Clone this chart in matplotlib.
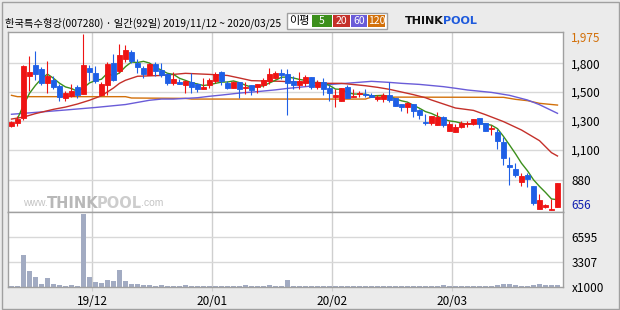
import matplotlib
matplotlib.use("Agg")
import matplotlib.pyplot as plt
from matplotlib.patches import Rectangle

# 한국특수형강(007280) daily candles, 2019/11/12 ~ 2020/03/25 (92 trading days)
opens = [1285, 1305, 1345, 1662, 1745, 1712, 1610, 1632, 1587, 1497,
         1512, 1577, 1527, 1720, 1682, 1520, 1595, 1755, 1700, 1787,
         1842, 1760, 1718, 1665, 1750, 1705, 1675, 1605, 1615, 1595,
         1615, 1600, 1565, 1590, 1620, 1690, 1610, 1572, 1615, 1572,
         1590, 1580, 1595, 1625, 1645, 1682, 1675, 1620, 1595, 1610,
         1650, 1580, 1615, 1570, 1500, 1475, 1575, 1505, 1525, 1525,
         1520, 1490, 1490, 1520, 1495, 1450, 1430, 1450, 1405, 1317,
         1310, 1295, 1350, 1245, 1240, 1280, 1300, 1300, 1345, 1310,
         1262, 1240, 1165, 992, 960, 865, 920, 835, 660, 675,
         656, 675]
highs = [1325, 1360, 1740, 1810, 1850, 1725, 1775, 1660, 1600, 1545,
         1600, 1590, 1975, 1745, 1735, 1615, 1762, 1825, 1900, 1892,
         1855, 1785, 1737, 1755, 1762, 1760, 1685, 1690, 1637, 1630,
         1680, 1610, 1645, 1645, 1690, 1697, 1625, 1622, 1615, 1615,
         1595, 1600, 1645, 1717, 1697, 1710, 1710, 1660, 1690, 1665,
         1650, 1630, 1645, 1590, 1565, 1570, 1590, 1560, 1550, 1560,
         1535, 1515, 1535, 1615, 1495, 1450, 1465, 1450, 1415, 1375,
         1360, 1390, 1360, 1320, 1300, 1320, 1325, 1340, 1345, 1310,
         1290, 1265, 1205, 1050, 1005, 935, 930, 835, 775, 700,
         735, 860]
lows = [1275, 1285, 1330, 1550, 1630, 1590, 1535, 1560, 1475, 1475,
        1505, 1497, 1525, 1625, 1610, 1520, 1520, 1620, 1680, 1762,
        1755, 1680, 1647, 1665, 1662, 1650, 1590, 1590, 1597, 1530,
        1535, 1542, 1565, 1570, 1610, 1595, 1560, 1572, 1497, 1525,
        1520, 1535, 1575, 1600, 1637, 1640, 1370, 1560, 1560, 1585,
        1560, 1565, 1520, 1475, 1430, 1475, 1495, 1505, 1505, 1505,
        1500, 1470, 1465, 1465, 1435, 1395, 1385, 1355, 1340, 1295,
        1295, 1295, 1280, 1245, 1240, 1270, 1280, 1295, 1270, 1250,
        1220, 1115, 990, 845, 900, 835, 830, 690, 660, 670,
        656, 675]
closes = [1315, 1340, 1735, 1690, 1673, 1610, 1662, 1580, 1505, 1535,
          1550, 1520, 1745, 1690, 1625, 1600, 1750, 1630, 1817, 1855,
          1775, 1730, 1675, 1750, 1700, 1665, 1610, 1637, 1603, 1620,
          1580, 1562, 1580, 1630, 1672, 1625, 1570, 1617, 1565, 1580,
          1555, 1600, 1630, 1675, 1682, 1667, 1605, 1595, 1620, 1650,
          1580, 1615, 1565, 1535, 1515, 1570, 1495, 1512, 1530, 1515,
          1505, 1505, 1520, 1480, 1435, 1430, 1455, 1400, 1370, 1310,
          1360, 1350, 1295, 1300, 1280, 1305, 1305, 1335, 1300, 1250,
          1267, 1175, 1045, 980, 920, 910, 890, 710, 730, 695,
          665, 860]
# volume in thousands of shares
volumes = [150, 150, 4210, 2100, 1300, 400, 1200, 400, 270, 150,
           270, 150, 9600, 1300, 650, 530, 900, 800, 2240, 800,
           400, 400, 270, 270, 150, 270, 150, 150, 130, 270,
           130, 130, 130, 130, 130, 130, 130, 130, 130, 270,
           130, 130, 130, 270, 130, 130, 900, 130, 130, 130,
           130, 130, 130, 130, 130, 130, 130, 130, 130, 130,
           130, 130, 130, 130, 130, 130, 130, 130, 130, 130,
           130, 130, 270, 130, 130, 130, 130, 130, 130, 130,
           130, 300, 400, 400, 270, 130, 130, 300, 400, 250,
           250, 250]

# moving averages
ma5 = [1340, 1440, 1530, 1590, 1640, 1674, 1643, 1606, 1578, 1566,
       1545, 1571, 1608, 1626, 1636, 1682, 1659, 1684, 1730, 1765,
       1761, 1770, 1757, 1726, 1704, 1680, 1672, 1643, 1627, 1610,
       1600, 1589, 1594, 1605, 1614, 1615, 1623, 1610, 1591, 1577,
       1583, 1586, 1608, 1628, 1651, 1652, 1645, 1634, 1627, 1610,
       1612, 1606, 1589, 1562, 1560, 1536, 1525, 1524, 1524, 1511,
       1513, 1515, 1505, 1489, 1474, 1464, 1440, 1418, 1393, 1379,
       1358, 1337, 1323, 1317, 1306, 1297, 1305, 1306, 1299, 1291,
       1265, 1207, 1143, 1077, 1006, 949, 882, 832, 787, 738,
       732]  # starts at day 1
ma20_day = [0, 2, 4, 7, 9, 11, 13, 15, 17, 18, 19, 21, 25, 29, 33, 36, 38,
            40, 45, 48, 53, 55, 59, 61, 63, 65, 67, 69, 70, 72, 74, 77, 79,
            82, 85, 88, 90, 91]
ma20 = [1337, 1352, 1378, 1410, 1427, 1450, 1478, 1512, 1570, 1605, 1628,
        1658, 1664, 1680, 1672, 1664, 1645, 1625, 1620, 1612, 1605, 1605,
        1587, 1575, 1560, 1540, 1520, 1497, 1480, 1450, 1420, 1402, 1370,
        1318, 1255, 1175, 1085, 1060]
ma60_day = [0, 4, 9, 14, 19, 23, 25, 27, 31, 33, 35, 38, 41, 44, 46, 49, 51,
            56, 58, 60, 63, 65, 68, 72, 74, 76, 80, 83, 86, 88, 91]
ma60 = [1373, 1387, 1405, 1424, 1446, 1478, 1487, 1487, 1497, 1508, 1517,
        1532, 1543, 1556, 1567, 1580, 1590, 1606, 1613, 1620, 1612, 1605,
        1597, 1580, 1568, 1555, 1537, 1515, 1480, 1445, 1380]
ma120_day = [0, 1, 19, 20, 29, 30, 59, 60, 82, 84, 86, 88, 91]
ma120 = [1515, 1505, 1505, 1495, 1492, 1487, 1487, 1502, 1500, 1485, 1475,
         1455, 1442]

month_labels = ["19/12", "20/01", "20/02", "20/03"]
month_start = [14, 34, 54, 74]  # first trading day of each month
price_ticks = [1755, 1540, 1324, 1105, 880]
price_labels = ["1,800", "1,500", "1,300", "1,100", "880"]
vol_ticks = [0, 3307, 6595]
vol_labels = ["x1000", "3307", "6595"]

UP = "#ee1414"
DOWN = "#1e5fe6"
C5, C20, C60, C120 = "#3c8f1c", "#c4302a", "#6a5cd8", "#d2700a"
GRID = "#d8d8d8"
W, H = 620, 310


def fig_rect(x0, y0, x1, y1):
    # pixel box (top-left origin) -> figure fraction
    return [x0 / W, 1 - y1 / H, (x1 - x0) / W, (y1 - y0) / H]


def style_axes(ax):
    for s in ax.spines.values():
        s.set_color("#a0a0a0")
        s.set_linewidth(1)
    ax.set_facecolor("white")
    ax.set_xlim(-0.58, 91.92)
    for m in month_start:
        ax.axvline(m - 0.5, color="#cfcfcf", lw=1, zorder=0)


def chart():
    plt.rcParams['font.family'] = ['Noto Sans CJK KR', 'DejaVu Sans']
    fig = plt.figure(figsize=(6.2, 3.1), dpi=100, facecolor="#ebebeb")

    days = list(range(len(closes)))
    colors = [UP if c >= o else DOWN for o, c in zip(opens, closes)]

    # price panel
    ax = fig.add_axes(fig_rect(8, 32, 563, 212))
    style_axes(ax)
    ax.set_ylim(640, 1990)
    for t in price_ticks:
        ax.axhline(t, color=GRID, lw=1, zorder=0)
    ax.plot(ma120_day, ma120, color=C120, lw=1, zorder=2)
    ax.plot(ma60_day, ma60, color=C60, lw=1, zorder=2)
    ax.plot(ma20_day, ma20, color=C20, lw=1, zorder=2)
    ax.plot(days[1:], ma5, color=C5, lw=1, zorder=2)
    ax.vlines(days, lows, highs, colors=colors, lw=0.8, zorder=3)
    bottoms = [min(o, c) for o, c in zip(opens, closes)]
    heights = [abs(c - o) for o, c in zip(opens, closes)]
    ax.bar(days, heights, bottom=bottoms, width=0.8, color=colors,
           edgecolor=colors, linewidth=0.6, zorder=4)
    ax.yaxis.tick_right()
    ax.set_yticks(price_ticks, price_labels)
    ax.tick_params(axis="y", length=0, pad=6, labelsize=8.5)
    ax.tick_params(axis="x", bottom=False, labelbottom=False)
    ax.text(1.0145, 1.0, f"{max(highs):,}", transform=ax.transAxes,
            color="#d2700a", fontsize=8.5, va="top", ha="left")
    ax.text(1.0145, 0.0, f"{min(lows):,}", transform=ax.transAxes,
            color="#1020b0", fontsize=8.5, va="bottom", ha="left")

    # watermark
    ax.text(0.027, 0.02, "www.", transform=ax.transAxes, color="#c4c4c4",
            fontsize=7.5, family="Liberation Sans", va="bottom")
    ax.text(0.0705, 0.005, "THINK", transform=ax.transAxes, color="#b8b8b8",
            fontsize=10.5, weight="bold", family="DejaVu Sans", va="bottom")
    ax.text(0.160, 0.005, "POOL", transform=ax.transAxes, color="#cdcdcd",
            fontsize=10.5, weight="bold", family="DejaVu Sans", va="bottom")
    ax.text(0.240, 0.02, ".com", transform=ax.transAxes, color="#c4c4c4",
            fontsize=7.5, family="Liberation Sans", va="bottom")

    # volume panel
    vax = fig.add_axes(fig_rect(8, 212, 563, 287))
    style_axes(vax)
    vax.set_ylim(0, 9870)
    for t in vol_ticks[1:]:
        vax.axhline(t, color=GRID, lw=1, zorder=0)
    vax.bar(days, volumes, width=0.8, color="#a2abc2", zorder=2)
    vax.yaxis.tick_right()
    vax.set_yticks(vol_ticks, vol_labels)
    vax.tick_params(axis="y", length=0, pad=6, labelsize=8.5)
    vax.set_xticks([m - 0.5 for m in month_start], month_labels)
    vax.tick_params(axis="x", length=3, color="#cfcfcf", pad=3, labelsize=8.5)

    # header
    fig.text(5 / W, 1 - 23 / H,
             "한국특수형강(007280) · 일간(92일) 2019/11/12 ~ 2020/03/25",
             fontsize=7.4, va="center", ha="left")
    fig.add_artist(Rectangle(fig_rect(287, 13, 387, 29)[:2],
                             100 / W, 16 / H, transform=fig.transFigure,
                             facecolor="white", edgecolor="#a0a0a0", lw=1))
    fig.text(299 / W, 1 - 21 / H, "이평", fontsize=8, ha="center", va="center")
    legend = [("5", C5, 312, 332), ("20", C20, 333, 350),
              ("60", C60, 351, 367), ("120", C120, 368, 385)]
    for label, col, x0, x1 in legend:
        r = fig_rect(x0, 15, x1, 27)
        fig.add_artist(Rectangle(r[:2], r[2], r[3], transform=fig.transFigure,
                                 facecolor=col, edgecolor="none"))
        fig.text((x0 + x1) / 2 / W, 1 - 21 / H, label, color="white",
                 fontsize=7.5, ha="center", va="center")
    fig.text(405 / W, 1 - 21 / H, "THINK", fontsize=8, weight="bold",
             family="DejaVu Sans", va="center", ha="left", color="#111111")
    fig.text(443 / W, 1 - 21 / H, "POOL", fontsize=8, weight="bold",
             family="DejaVu Sans", va="center", ha="left", color="#1e5adc")

    # outer frame
    fig.add_artist(Rectangle((1.5 / W, 1.5 / H), 617 / W, 307 / H,
                             transform=fig.transFigure, facecolor="none",
                             edgecolor="#a0a0a0", lw=1))
    fig.savefig("out.png", dpi=100, facecolor=fig.get_facecolor())


def main():
    chart()


if __name__ == "__main__":
    main()
